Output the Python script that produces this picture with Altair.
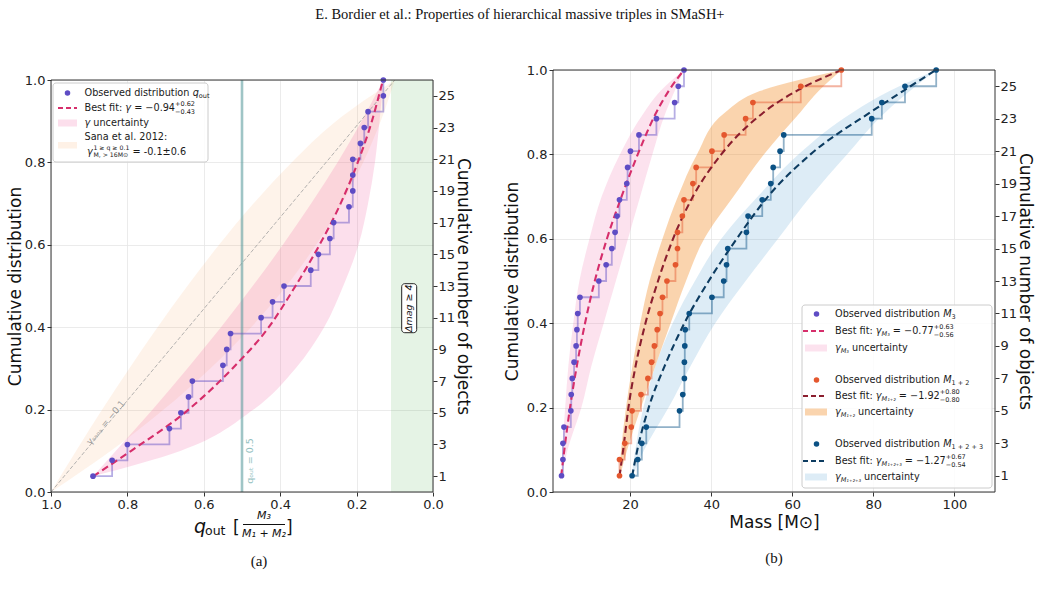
import altair as alt
import pandas as pd

# ======================= DATA =======================
# ---- panel (a): outer mass ratio q_out ----
n_obj = list(range(1, 27))
N_TOT = 26
q_out_obs = [0.89, 0.84, 0.80, 0.69, 0.66, 0.64, 0.63, 0.55, 0.54, 0.53, 0.45, 0.42, 0.39,
             0.32, 0.30, 0.27, 0.26, 0.22, 0.21, 0.21, 0.21, 0.19, 0.18, 0.17, 0.13, 0.13]

qfit_cum = [0.038, 0.1, 0.2, 0.3, 0.4, 0.5, 0.6, 0.7, 0.8, 0.9, 1.0]
qfit_q = [0.89, 0.79, 0.64, 0.525, 0.43, 0.36, 0.297, 0.242, 0.197, 0.16, 0.131]

qband_cum = [0.038, 0.1, 0.2, 0.3, 0.4, 0.5, 0.6, 0.7, 0.8, 0.9, 1.0]
qband_hi = [0.89, 0.83, 0.734, 0.643, 0.555, 0.472, 0.393, 0.319, 0.25, 0.187, 0.13]
qband_lo = [0.89, 0.66, 0.47, 0.36, 0.285, 0.235, 0.195, 0.17, 0.152, 0.14, 0.13]

sana_cum = [0.0, 0.1, 0.2, 0.3, 0.4, 0.5, 0.6, 0.7, 0.8, 0.9, 1.0]
sana_hi = [1.0, 0.934, 0.866, 0.795, 0.721, 0.643, 0.56, 0.47, 0.37, 0.254, 0.1]
sana_lo = [1.0, 0.843, 0.705, 0.583, 0.476, 0.384, 0.306, 0.239, 0.183, 0.137, 0.1]
sana_line_q = [1.0, 0.1]
sana_line_cum = [0.0, 1.0]
q_threshold = [0.5]
dmag_region = [0.11, 0.0]

# ---- panel (b): masses ----
m3_obs = [3.1, 3.45, 3.45, 3.7, 5.4, 5.5, 5.75, 6.2, 6.7, 6.9, 7.1, 7.65, 12.3, 14.1, 15.5,
          16.3, 16.8, 17.4, 19.2, 19.4, 20.1, 22.2, 26.5, 31.0, 31.9, 33.3]
m12_obs = [17.4, 17.4, 18.7, 20.3, 20.5, 22.7, 24.4, 25.3, 26.0, 26.7, 27.4, 28.0, 29.1,
           31.2, 31.7, 31.7, 32.9, 33.3, 35.5, 36.3, 40.2, 43.2, 48.5, 50.3, 62.1, 72.1]
m123_obs = [20.5, 21.9, 22.9, 24.0, 32.2, 33.0, 33.4, 33.4, 33.5, 33.6, 34.6, 40.2, 43.1,
            43.8, 44.1, 48.7, 49.1, 52.6, 54.7, 55.3, 57.0, 57.9, 79.6, 82.1, 87.8, 95.5]

mfit_cum = [0.037, 0.1, 0.2, 0.3, 0.4, 0.5, 0.6, 0.7, 0.8, 0.9, 0.95, 1.0]
m3_fit = [3.0, 3.8, 5.2, 6.9, 8.9, 11.3, 14.3, 17.9, 21.9, 26.5, 29.5, 33.3]
m12_fit = [17.4, 18.3, 19.6, 21.4, 23.8, 26.9, 30.6, 35.5, 42.5, 53.0, 61.0, 72.2]
m123_fit = [20.5, 21.8, 24.6, 28.6, 33.4, 39.4, 46.3, 54.0, 64.5, 79.3, 87.3, 95.4]

mband_cum = [0.037, 0.1, 0.2, 0.3, 0.4, 0.5, 0.6, 0.7, 0.8, 0.9, 0.95, 1.0]
m3_band_lo = [3.0, 3.3, 4.0, 4.8, 6.0, 7.5, 10.0, 13.0, 17.5, 23.5, 27.5, 33.3]
m3_band_hi = [3.1, 4.6, 8.0, 10.5, 13.5, 16.5, 19.5, 22.5, 25.5, 28.8, 31.0, 33.3]
m12_band_lo = [17.3, 17.8, 19.0, 20.6, 22.5, 24.8, 28.0, 31.8, 36.5, 43.5, 52.0, 72.2]
m12_band_hi = [17.5, 19.3, 22.7, 26.3, 30.0, 33.8, 38.3, 45.5, 53.0, 62.0, 66.5, 72.2]
m123_band_lo = [20.4, 21.3, 23.3, 26.3, 30.5, 36.0, 42.5, 51.5, 61.5, 75.0, 84.0, 95.5]
m123_band_hi = [20.6, 23.5, 29.5, 35.0, 41.0, 48.5, 56.5, 64.5, 73.5, 83.0, 89.0, 95.5]

# ======================= STYLE =======================
C_PURPLE = "#5e4cc4"
C_ORANGE = "#e4572e"
C_BLUE = "#0b5184"
C_CRIMSON = "#d62e6b"
C_DKRED = "#8b1e2e"
C_NAVY = "#0d3c61"
C_PINK = "#f06ea9"
C_BAND_OR = "#f28e2b"
C_BAND_BL = "#6baed6"
C_SANA = "#f5a05a"
C_GREEN = "#2ca02c"
C_TEAL = "#5f9ea0"

W1, H1 = 382, 412
W2, H2 = 442, 422

XS_L = alt.Scale(domain=[0, 1], reverse=True, nice=False, zero=False)
YS = alt.Scale(domain=[0, 1], nice=False, zero=False)
XS_R = alt.Scale(domain=[1, 110], nice=False, zero=False)
ticks01 = [0.0, 0.2, 0.4, 0.6, 0.8, 1.0]
odd_ticks = [k / N_TOT for k in range(1, 26, 2)]

# DejaVu Sans advance widths (em) for laying out legend text pieces
WID = {' ': 0.318, '(': 0.390, ')': 0.390, '+': 0.838, ',': 0.318, '-': 0.361, '.': 0.318,
       ':': 0.337, '=': 0.838, '±': 0.838, '≥': 0.838, '−': 0.838, 'γ': 0.592, '⊙': 0.838,
       'A': 0.684, 'B': 0.686, 'M': 0.863, 'O': 0.787, 'S': 0.635,
       'a': 0.613, 'b': 0.635, 'c': 0.550, 'd': 0.635, 'e': 0.615, 'f': 0.352, 'i': 0.278,
       'l': 0.278, 'n': 0.634, 'o': 0.612, 'q': 0.635, 'r': 0.411, 's': 0.521, 't': 0.392,
       'u': 0.634, 'v': 0.592, 'y': 0.592}
for _d in "0123456789":
    WID[_d] = 0.636
for _d in "₀₁₂₃₄₅₆₇₈₉":
    WID[_d] = 0.40
WID['₊'] = 0.52


def tw(s, size):
    return sum(WID.get(ch, 0.6) for ch in s) * size


def item(x, y, text, size, italic=False, color="#1a1a1a", align="left", angle=0.0,
         font="DejaVu Sans"):
    return dict(x=x, y=y, text=text, size=size, italic=italic, color=color, align=align,
                angle=float(angle), font=font)


def build_row(x0, y0, segs, color="#1a1a1a"):
    out = []
    x = x0
    for s in segs:
        if s[0] == "t":
            _, text, size, it, dy = s
            stripped = text.lstrip(" ")
            x += tw(text[:len(text) - len(stripped)], size)
            out.append(item(x, y0 + dy, stripped, size, it, color))
            x += tw(stripped, size)
        else:
            _, sup, sub, size = s
            out.append(item(x, y0 - 3.6, sup, size, False, color))
            out.append(item(x, y0 + 3.6, sub, size, False, color))
            x += max(tw(sup, size), tw(sub, size))
    return out


def text_layers(items):
    df = pd.DataFrame(items)
    layers = []
    for (it, al, ang, font), g in df.groupby(["italic", "align", "angle", "font"]):
        layers.append(
            alt.Chart(g.reset_index(drop=True)).mark_text(
                baseline="middle", align=al, angle=float(ang), font=font,
                fontStyle="italic" if bool(it) else "normal"
            ).encode(
                x=alt.X("x:Q", scale=None, axis=None),
                y=alt.Y("y:Q", scale=None, axis=None),
                text="text:N",
                size=alt.Size("size:Q", scale=None, legend=None),
                color=alt.Color("color:N", scale=None, legend=None),
            )
        )
    return layers


def px_points(rows):
    return alt.Chart(pd.DataFrame(rows)).mark_circle(size=30, opacity=1).encode(
        x=alt.X("x:Q", scale=None, axis=None), y=alt.Y("y:Q", scale=None, axis=None),
        color=alt.Color("c:N", scale=None, legend=None))


def px_dashes(rows):
    return alt.Chart(pd.DataFrame(rows)).mark_rule(strokeDash=[5, 3], strokeWidth=2).encode(
        x=alt.X("x:Q", scale=None, axis=None), x2="x2:Q",
        y=alt.Y("y:Q", scale=None, axis=None),
        color=alt.Color("c:N", scale=None, legend=None))


def px_rects(rows):
    return alt.Chart(pd.DataFrame(rows)).mark_rect().encode(
        x=alt.X("x:Q", scale=None, axis=None), x2="x2:Q",
        y=alt.Y("y:Q", scale=None, axis=None), y2="y2:Q",
        color=alt.Color("c:N", scale=None, legend=None),
        opacity=alt.Opacity("op:Q", scale=None, legend=None))


def px_box(x, x2, y, y2, **kw):
    return alt.Chart(pd.DataFrame({"x": [x], "x2": [x2], "y": [y], "y2": [y2]})).mark_rect(**kw).encode(
        x=alt.X("x:Q", scale=None, axis=None), x2="x2:Q",
        y=alt.Y("y:Q", scale=None, axis=None), y2="y2:Q")


def frame(w, h):
    return px_box(0, w, 0, h, fillOpacity=0, stroke="#333333", strokeWidth=1)


def right_count_axis(df, xfield, xscale, tpad):
    return alt.Chart(df).mark_point(opacity=0).encode(
        x=alt.X(xfield, scale=xscale, axis=None),
        y=alt.Y("cum:Q", scale=YS,
                axis=alt.Axis(orient="right", values=odd_ticks,
                              labelExpr="format(round(datum.value*26), 'd')",
                              title="Cumulative number of objects",
                              grid=False, titlePadding=tpad, labelPadding=1, labelFlush=False)))


# ======================= PANEL (a) =======================
cum_obs = [k / N_TOT for k in n_obj]
dfa_obs = pd.DataFrame({"q": q_out_obs, "cum": cum_obs, "n": n_obj})
dfa_fit = pd.DataFrame({"q": qfit_q, "cum": qfit_cum})
dfa_band = pd.DataFrame({"cum": qband_cum, "hi": qband_hi, "lo": qband_lo})
dfa_sana = pd.DataFrame({"cum": sana_cum, "hi": sana_hi, "lo": sana_lo})
dfa_sline = pd.DataFrame({"q": sana_line_q, "cum": sana_line_cum})
dfa_green = pd.DataFrame({"q1": [dmag_region[0]], "q2": [dmag_region[1]], "c1": [0.0], "c2": [1.0]})
dfa_vline = pd.DataFrame({"q": q_threshold})

green = alt.Chart(dfa_green).mark_rect(color=C_GREEN, opacity=0.12).encode(
    x=alt.X("q1:Q", scale=XS_L, axis=None), x2="q2:Q",
    y=alt.Y("c1:Q", scale=YS, axis=None), y2="c2:Q")
sana_band = alt.Chart(dfa_sana).mark_area(orient="horizontal", interpolate="monotone",
                                          color=C_SANA, opacity=0.13).encode(
    y=alt.Y("cum:Q", scale=YS, axis=None),
    x=alt.X("hi:Q", scale=XS_L, axis=None), x2="lo:Q")
pink_band = alt.Chart(dfa_band).mark_area(orient="horizontal", interpolate="monotone",
                                          color=C_PINK, opacity=0.22).encode(
    y=alt.Y("cum:Q", scale=YS, axis=None),
    x=alt.X("hi:Q", scale=XS_L, axis=None), x2="lo:Q")
sana_line = alt.Chart(dfa_sline).mark_line(color="#a0a0a0", strokeWidth=0.8,
                                           strokeDash=[4, 2]).encode(
    x=alt.X("q:Q", scale=XS_L, axis=None), y=alt.Y("cum:Q", scale=YS, axis=None))
vline = alt.Chart(dfa_vline).mark_rule(color=C_TEAL, opacity=0.6, strokeWidth=2.6).encode(
    x=alt.X("q:Q", scale=XS_L, axis=None))
steps_a = alt.Chart(dfa_obs).mark_line(interpolate="step-after", color=C_PURPLE,
                                       opacity=0.45, strokeWidth=1.8).encode(
    x=alt.X("q:Q", scale=XS_L, axis=None), y=alt.Y("cum:Q", scale=YS, axis=None),
    order=alt.Order("n:Q"))
fit_a = alt.Chart(dfa_fit).mark_line(color=C_CRIMSON, strokeWidth=2.1, strokeDash=[7, 4],
                                     interpolate="monotone").encode(
    x=alt.X("q:Q", scale=XS_L, axis=None), y=alt.Y("cum:Q", scale=YS, axis=None),
    order=alt.Order("cum:Q"))
pts_a = alt.Chart(dfa_obs).mark_circle(size=32, opacity=1, color=C_PURPLE).encode(
    x=alt.X("q:Q", scale=XS_L,
            axis=alt.Axis(values=ticks01, format=".1f", title=None, grid=True, labelFlush=False)),
    y=alt.Y("cum:Q", scale=YS,
            axis=alt.Axis(orient="left", values=ticks01, format=".1f",
                          title="Cumulative distribution",
                          grid=True, titlePadding=0, labelFlush=False)))
axis_a = right_count_axis(dfa_obs, "q:Q", XS_L, -1)

# annotations & legend (a)
FS = 9.7
SS = 6.5
ann_a = []
ann_a.append(item(358.2, 228.2, "Δmag ≥ 4", 9.5, True, "#111111", "center", 270))
ann_a.append(item(198.5, 381.0, "qₒᵤₜ = 0.5", 9.5, False, "#93bfbf", "center", 270))
ann_a.append(item(54.7, 342.5, "γₛₐₙₐ = −0.1", 9, False, "#9a9a9a", "center", 310))
ann_a += build_row(33.5, 13, [("t", "Observed distribution ", FS, False, 0),
                              ("t", "q", FS, True, 0), ("t", "out", SS, False, 2.8)])
ann_a += build_row(33.5, 28, [("t", "Best fit: ", FS, False, 0), ("t", "γ", FS, True, 0),
                              ("t", " = −0.94", FS, False, 0), ("s", "+0.62", "−0.43", SS)])
ann_a += build_row(33.5, 43, [("t", "γ", FS, True, 0), ("t", " uncertainty", FS, False, 0)])
ann_a += build_row(33.5, 57, [("t", "Sana et al. 2012:", FS, False, 0)])
ann_a += build_row(36, 71.5, [("t", "γ", FS, True, 0), ("t", " ", 2, False, 0),
                              ("s", "1 ≥ q ≥ 0.1", "M, > 16M⊙", 6.2),
                              ("t", " = -0.1±0.6", FS, False, 0)])
# x-axis title of (a): q_out [M3 / (M1 + M2)]
ann_a.append(item(143, 446.5, "q", 19, True, "#111111"))
ann_a.append(item(154, 451, "out", 12.5, False, "#111111"))
ann_a.append(item(182, 447.5, "[", 17, False, "#111111"))
ann_a.append(item(213, 436, "M₃", 11, True, "#111111", "center"))
ann_a.append(item(213, 454, "M₁ + M₂", 11, True, "#111111", "center"))
ann_a.append(item(235, 447.5, "]", 17, False, "#111111"))
ann_a.append(item(208, 481, "(a)", 15, False, "#111111", "center", 0, "Liberation Serif"))

frac_line = px_box(192, 234, 444, 444.9, color="#111111")
dmag_box = px_box(350.7, 365.7, 203.7, 252.7, fill="white", stroke="#222222",
                  strokeWidth=1, cornerRadius=3)
leg_box_a = px_box(2, 157, 3, 82, fill="white", fillOpacity=0.85, stroke="#cccccc",
                   strokeWidth=1, cornerRadius=3)
leg_pts_a = px_points([dict(x=16.5, y=13, c=C_PURPLE)])
leg_dash_a = px_dashes([dict(x=7, x2=26, y=28, c=C_CRIMSON)])
leg_rect_a = px_rects([dict(x=7, x2=26, y=39.5, y2=46.5, c=C_PINK, op=0.22),
                       dict(x=7, x2=26, y=62, y2=68.5, c=C_SANA, op=0.15)])

panel_a = alt.layer(
    green, sana_band, pink_band, sana_line, vline, steps_a, fit_a, pts_a, axis_a,
    dmag_box, leg_box_a, leg_pts_a, leg_dash_a, leg_rect_a, frac_line, frame(W1, H1),
    *text_layers(ann_a)
).resolve_axis(x="independent", y="independent").properties(width=W1, height=H1)

# invisible spacer that lowers panel (a) a few pixels relative to panel (b)
spacer = alt.Chart(pd.DataFrame({"a": [0]})).mark_point(opacity=0).encode(
    x=alt.X("a:Q", axis=None), y=alt.Y("a:Q", axis=None)).properties(width=W1, height=1)
left_col = alt.vconcat(spacer, panel_a, spacing=0)

# ======================= PANEL (b) =======================
def obs_df(vals):
    return pd.DataFrame({"m": vals, "n": n_obj, "cum": [k / N_TOT for k in n_obj]})


series = [
    (m3_obs, m3_fit, m3_band_lo, m3_band_hi, C_PURPLE, C_CRIMSON, C_PINK, 0.2),
    (m12_obs, m12_fit, m12_band_lo, m12_band_hi, C_ORANGE, C_DKRED, C_BAND_OR, 0.38),
    (m123_obs, m123_fit, m123_band_lo, m123_band_hi, C_BLUE, C_NAVY, C_BAND_BL, 0.23),
]
band_layers, step_layers, fit_layers, pt_layers = [], [], [], []
for k, (obs, fit, blo, bhi, cp, cf, cb, ob) in enumerate(series):
    dfo = obs_df(obs)
    band_layers.append(
        alt.Chart(pd.DataFrame({"cum": mband_cum, "lo": blo, "hi": bhi})).mark_area(
            orient="horizontal", interpolate="monotone", color=cb, opacity=ob).encode(
            y=alt.Y("cum:Q", scale=YS, axis=None),
            x=alt.X("lo:Q", scale=XS_R, axis=None), x2="hi:Q"))
    step_layers.append(
        alt.Chart(dfo).mark_line(interpolate="step-after", color=cp, opacity=0.45,
                                 strokeWidth=1.8).encode(
            x=alt.X("m:Q", scale=XS_R, axis=None), y=alt.Y("cum:Q", scale=YS, axis=None),
            order=alt.Order("n:Q")))
    fit_layers.append(
        alt.Chart(pd.DataFrame({"m": fit, "cum": mfit_cum})).mark_line(
            color=cf, strokeWidth=2.1, strokeDash=[7, 4], interpolate="monotone").encode(
            x=alt.X("m:Q", scale=XS_R, axis=None), y=alt.Y("cum:Q", scale=YS, axis=None),
            order=alt.Order("cum:Q")))
    if k == 0:
        xenc = alt.X("m:Q", scale=XS_R,
                     axis=alt.Axis(values=[20, 40, 60, 80, 100], format="d", title="Mass [M⊙]",
                                   grid=True, titlePadding=3, labelFlush=False))
        yenc = alt.Y("cum:Q", scale=YS,
                     axis=alt.Axis(orient="left", values=ticks01, format=".1f",
                                   title="Cumulative distribution",
                                   grid=True, titlePadding=5, labelFlush=False))
    else:
        xenc = alt.X("m:Q", scale=XS_R, axis=None)
        yenc = alt.Y("cum:Q", scale=YS, axis=None)
    pt_layers.append(alt.Chart(dfo).mark_circle(size=32, opacity=1, color=cp).encode(
        x=xenc, y=yenc))

axis_b = right_count_axis(obs_df(m123_obs), "m:Q", XS_R, -1)

# legend (b)
LX_T = 282
rows_y = [244, 261, 278, 310, 326, 342, 374, 391, 407]
ann_b = []
subs = ["₃", "₁₊₂", "₁₊₂₊₃"]
subs_long = ["3", "1 + 2", "1 + 2 + 3"]
gam = ["−0.77", "−1.92", "−1.27"]
ups = ["+0.63", "+0.80", "+0.67"]
dns = ["−0.56", "−0.80", "−0.54"]
for i in range(3):
    y1, y2, y3 = rows_y[3 * i], rows_y[3 * i + 1], rows_y[3 * i + 2]
    ann_b += build_row(LX_T, y1, [("t", "Observed distribution ", FS, False, 0),
                                  ("t", "M", FS, True, 0), ("t", subs_long[i], SS, False, 2.8)])
    ann_b += build_row(LX_T, y2, [("t", "Best fit: ", FS, False, 0), ("t", "γ", FS, True, 0),
                                  ("t", "M" + subs[i], SS, True, 2.8),
                                  ("t", " = " + gam[i], FS, False, 0),
                                  ("s", ups[i], dns[i], SS)])
    ann_b += build_row(LX_T, y3, [("t", "γ", FS, True, 0), ("t", "M" + subs[i], SS, True, 2.8),
                                  ("t", " uncertainty", FS, False, 0)])
ann_b.append(item(221, 488, "(b)", 15, False, "#111111", "center", 0, "Liberation Serif"))

leg_box_b = px_box(249, 439, 235, 418, fill="white", fillOpacity=0.85, stroke="#cccccc",
                   strokeWidth=1, cornerRadius=3)
leg_pts_b = px_points([dict(x=263.5, y=rows_y[0], c=C_PURPLE),
                       dict(x=263.5, y=rows_y[3], c=C_ORANGE),
                       dict(x=263.5, y=rows_y[6], c=C_BLUE)])
leg_dash_b = px_dashes([dict(x=250, x2=274, y=rows_y[1], c=C_CRIMSON),
                        dict(x=250, x2=274, y=rows_y[4], c=C_DKRED),
                        dict(x=250, x2=274, y=rows_y[7], c=C_NAVY)])
leg_rect_b = px_rects([dict(x=252, x2=274, y=rows_y[2] - 3.5, y2=rows_y[2] + 3.5, c=C_PINK, op=0.2),
                       dict(x=252, x2=274, y=rows_y[5] - 3.5, y2=rows_y[5] + 3.5, c=C_BAND_OR, op=0.38),
                       dict(x=252, x2=274, y=rows_y[8] - 3.5, y2=rows_y[8] + 3.5, c=C_BAND_BL, op=0.23)])

panel_b = alt.layer(
    *band_layers, *step_layers, *fit_layers, *pt_layers, axis_b,
    leg_box_b, leg_pts_b, leg_dash_b, leg_rect_b, frame(W2, H2), *text_layers(ann_b)
).resolve_axis(x="independent", y="independent").properties(width=W2, height=H2)

# ======================= FIGURE =======================
chart = alt.hconcat(left_col, panel_b, spacing=31).properties(
    title=alt.TitleParams(
        text="E. Bordier et al.: Properties of hierarchical massive triples in SMaSH+",
        font="Liberation Serif", fontSize=14.5, fontWeight="normal", color="#111111",
        anchor="middle", offset=42),
    padding={"left": 6, "top": 6, "right": 5, "bottom": 5},
).configure_view(strokeWidth=0).configure_axis(
    labelFont="DejaVu Sans", labelFontSize=13, labelColor="#222222",
    titleFont="DejaVu Sans", titleFontSize=17, titleFontWeight="normal", titleColor="#111111",
    tickColor="#333333", tickSize=4, domain=False, gridColor="#e6e6e6", gridWidth=0.8,
    labelPadding=2,
)

chart.save("out.html", embed_options={"renderer": "svg", "actions": False})
